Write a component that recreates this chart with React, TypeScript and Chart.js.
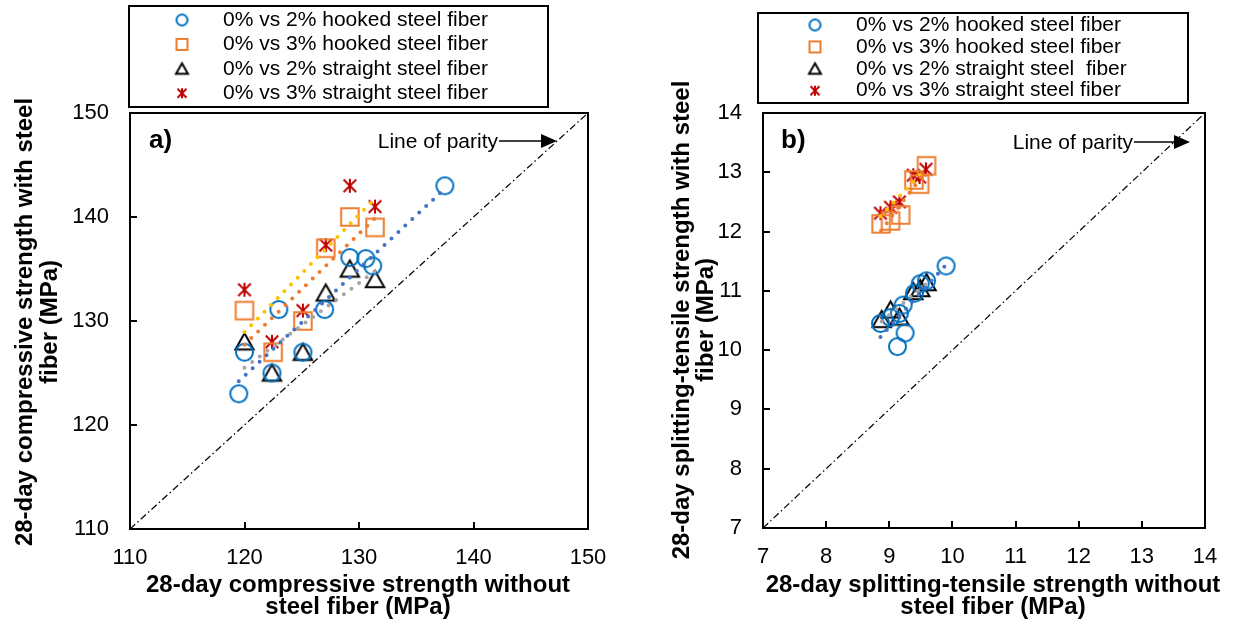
import React, { useEffect, useRef } from 'react';
import { Chart, registerables } from 'chart.js';

Chart.register(...registerables);

const FONT = '"Liberation Sans", Arial, Helvetica, sans-serif';

// ---- Panel (a): 28-day compressive strength (MPa) ----
const compTicks = [110, 120, 130, 140, 150];
const compHooked2Without = [119.5, 120, 122.4, 123, 125.1, 127, 129.2, 130.6, 131.2, 137.5];
const compHooked2With = [123, 127, 125, 131.1, 127, 131.1, 136.1, 136, 135.3, 143];
const compHooked3Without = [120, 122.5, 125.1, 127.1, 129.2, 131.4];
const compHooked3With = [131, 127, 130, 137, 140, 139];
const compStraight2Without = [120, 122.4, 125.1, 127.1, 129.2, 131.4];
const compStraight2With = [128, 125, 127, 132.7, 135, 134];
const compStraight3Without = [120, 122.4, 125.1, 127.1, 129.2, 131.4];
const compStraight3With = [133, 128, 131, 137.3, 143, 141];

// ---- Panel (b): 28-day splitting-tensile strength (MPa) ----
const tensTicks = [7, 8, 9, 10, 11, 12, 13, 14];
const tensHooked2Without = [8.86, 9.02, 9.13, 9.16, 9.22, 9.25, 9.4, 9.49, 9.59, 9.9];
const tensHooked2With = [10.45, 10.55, 10.06, 10.62, 10.76, 10.29, 10.96, 11.12, 11.17, 11.42];
const tensHooked3Without = [8.87, 9.02, 9.18, 9.39, 9.48, 9.59];
const tensHooked3With = [12.13, 12.18, 12.28, 12.87, 12.8, 13.11];
const tensStraight2Without = [8.88, 9.02, 9.16, 9.38, 9.49, 9.59];
const tensStraight2With = [10.52, 10.68, 10.56, 10.99, 11.04, 11.14];
const tensStraight3Without = [8.86, 9.02, 9.16, 9.38, 9.48, 9.58];
const tensStraight3With = [12.31, 12.41, 12.5, 12.95, 12.92, 13.05];

const seriesLabelsA = [
  '0% vs 2% hooked steel fiber',
  '0% vs 3% hooked steel fiber',
  '0% vs 2% straight steel fiber',
  '0% vs 3% straight steel fiber',
];
const seriesLabelsB = [
  '0% vs 2% hooked steel fiber',
  '0% vs 3% hooked steel fiber',
  '0% vs 2% straight steel  fiber',
  '0% vs 3% straight steel fiber',
];

const xTitleA = ['28-day compressive strength without', 'steel fiber (MPa)'];
const yTitleA = ['28-day compressive strength with steel', 'fiber (MPa)'];
const xTitleB = ['28-day splitting-tensile strength without', 'steel fiber (MPa)'];
const yTitleB = ['28-day splitting-tensile strength with steel', 'fiber (MPa)'];
const parityText = 'Line of parity';

type MarkerKind = 'circle' | 'square' | 'triangle' | 'asterisk';
const markerKinds: MarkerKind[] = ['circle', 'square', 'triangle', 'asterisk'];
const markerColors = ['#0070C0', '#ED7D31', '#000000', '#C00000'];
const trendColors = ['#4472C4', '#ED7D31', '#A5A5A5', '#FFC000'];

const W = 625;
const H = 626;

interface Layout {
  area: { left: number; right: number; top: number; bottom: number };
  yLabelGap: number;
  tag: { text: string; x: number; y: number };
  parity: { textRight: number; y: number; tip: number };
  xTitle: { cx: number; y1: number; step: number };
  yTitle: { x1: number; step: number; cy: number };
  legend: {
    left: number; top: number; right: number; bottom: number;
    markerX: number; textX: number; firstRow: number; rowStep: number;
  };
}

interface Panel {
  ticks: number[];
  xs: number[][];
  ys: number[][];
  labels: string[];
  xTitle: string[];
  yTitle: string[];
  layout: Layout;
}

const panelA: Panel = {
  ticks: compTicks,
  xs: [compHooked2Without, compHooked3Without, compStraight2Without, compStraight3Without],
  ys: [compHooked2With, compHooked3With, compStraight2With, compStraight3With],
  labels: seriesLabelsA,
  xTitle: xTitleA,
  yTitle: yTitleA,
  layout: {
    area: { left: 130, right: 588, top: 113, bottom: 529 },
    yLabelGap: 21,
    tag: { text: 'a)', x: 149, y: 141 },
    parity: { textRight: 498, y: 142, tip: 557 },
    xTitle: { cx: 358, y1: 585, step: 22 },
    yTitle: { x1: 25, step: 25, cy: 322 },
    legend: { left: 129, top: 6, right: 548, bottom: 107, markerX: 182, textX: 223, firstRow: 20, rowStep: 24.4 },
  },
};

const panelB: Panel = {
  ticks: tensTicks,
  xs: [tensHooked2Without, tensHooked3Without, tensStraight2Without, tensStraight3Without],
  ys: [tensHooked2With, tensHooked3With, tensStraight2With, tensStraight3With],
  labels: seriesLabelsB,
  xTitle: xTitleB,
  yTitle: yTitleB,
  layout: {
    area: { left: 138, right: 580, top: 113, bottom: 528 },
    yLabelGap: 21,
    tag: { text: 'b)', x: 156, y: 141 },
    parity: { textRight: 508, y: 143, tip: 565 },
    xTitle: { cx: 368, y1: 585, step: 22 },
    yTitle: { x1: 57, step: 24.5, cy: 320 },
    legend: { left: 133, top: 13, right: 563, bottom: 103, markerX: 190, textX: 231, firstRow: 25, rowStep: 21.9 },
  },
};

// Hollow marker glyphs rendered once to small canvases, used as point styles.
function makeMarker(kind: MarkerKind, size: number, color: string, lw: number): HTMLCanvasElement {
  const pad = Math.ceil(lw) + 1;
  const dim = Math.ceil(size + pad * 2);
  const c = document.createElement('canvas');
  c.width = dim;
  c.height = dim;
  const g = c.getContext('2d') as CanvasRenderingContext2D;
  const m = dim / 2;
  const h = size / 2;
  g.strokeStyle = color;
  g.lineWidth = lw;
  g.beginPath();
  if (kind === 'circle') {
    g.arc(m, m, h, 0, Math.PI * 2);
  } else if (kind === 'square') {
    g.rect(m - h, m - h, size, size);
  } else if (kind === 'triangle') {
    g.moveTo(m, m - h);
    g.lineTo(m + h * 1.08, m + h * 0.9);
    g.lineTo(m - h * 1.08, m + h * 0.9);
    g.closePath();
  } else {
    const d = h * 0.9;
    g.moveTo(m, m - h);
    g.lineTo(m, m + h);
    g.moveTo(m - d, m - d);
    g.lineTo(m + d, m + d);
    g.moveTo(m + d, m - d);
    g.lineTo(m - d, m + d);
  }
  g.stroke();
  return c;
}

// Least-squares trend line over the span of a series.
function trendLine(xs: number[], ys: number[]) {
  const n = xs.length;
  const mx = xs.reduce((a, b) => a + b, 0) / n;
  const my = ys.reduce((a, b) => a + b, 0) / n;
  let sxy = 0;
  let sxx = 0;
  for (let i = 0; i < n; i++) {
    sxy += (xs[i] - mx) * (ys[i] - my);
    sxx += (xs[i] - mx) * (xs[i] - mx);
  }
  const b = sxy / sxx;
  const a = my - b * mx;
  const lo = Math.min(...xs);
  const hi = Math.max(...xs);
  return [
    { x: lo, y: a + b * lo },
    { x: hi, y: a + b * hi },
  ];
}

function decorations(panel: Panel, legendMarks: HTMLCanvasElement[]) {
  const L = panel.layout;
  return {
    id: 'panelDecorations',
    afterDraw(chart: Chart) {
      const ctx = chart.ctx;
      const { left, right, top, bottom } = chart.chartArea;
      const xs = chart.scales.x;
      const ys = chart.scales.y;
      ctx.save();
      ctx.strokeStyle = '#000';
      ctx.fillStyle = '#000';

      // plot frame
      ctx.lineWidth = 2;
      ctx.strokeRect(left, top, right - left, bottom - top);

      // inward tick marks
      ctx.beginPath();
      xs.ticks.forEach((t) => {
        const px = Math.round(xs.getPixelForValue(t.value));
        ctx.moveTo(px, bottom);
        ctx.lineTo(px, bottom - 7);
      });
      ys.ticks.forEach((t) => {
        const py = Math.round(ys.getPixelForValue(t.value));
        ctx.moveTo(left, py);
        ctx.lineTo(left + 7, py);
      });
      ctx.stroke();

      // axis titles
      ctx.font = `bold 24px ${FONT}`;
      ctx.textAlign = 'center';
      ctx.textBaseline = 'middle';
      panel.xTitle.forEach((line, i) => ctx.fillText(line, L.xTitle.cx, L.xTitle.y1 + i * L.xTitle.step));
      ctx.save();
      ctx.translate(L.yTitle.x1, L.yTitle.cy);
      ctx.rotate(-Math.PI / 2);
      panel.yTitle.forEach((line, i) => ctx.fillText(line, 0, i * L.yTitle.step));
      ctx.restore();

      // panel tag
      ctx.font = `bold 26px ${FONT}`;
      ctx.textAlign = 'left';
      ctx.fillText(L.tag.text, L.tag.x, L.tag.y);

      // parity caption with arrow
      ctx.font = `21px ${FONT}`;
      ctx.textAlign = 'right';
      ctx.fillText(parityText, L.parity.textRight, L.parity.y);
      const ay = L.parity.y - 1;
      ctx.lineWidth = 1.5;
      ctx.beginPath();
      ctx.moveTo(L.parity.textRight + 1, ay);
      ctx.lineTo(L.parity.tip - 12, ay);
      ctx.stroke();
      ctx.beginPath();
      ctx.moveTo(L.parity.tip, ay);
      ctx.lineTo(L.parity.tip - 16, ay - 7);
      ctx.lineTo(L.parity.tip - 16, ay + 7);
      ctx.closePath();
      ctx.fill();

      // legend box
      const g = L.legend;
      ctx.fillStyle = '#fff';
      ctx.fillRect(g.left, g.top, g.right - g.left, g.bottom - g.top);
      ctx.lineWidth = 2;
      ctx.strokeStyle = '#000';
      ctx.strokeRect(g.left, g.top, g.right - g.left, g.bottom - g.top);
      ctx.fillStyle = '#000';
      ctx.font = `21px ${FONT}`;
      ctx.textAlign = 'left';
      panel.labels.forEach((label, i) => {
        const ry = g.firstRow + i * g.rowStep;
        const mk = legendMarks[i];
        ctx.drawImage(mk, g.markerX - mk.width / 2, ry - mk.height / 2);
        ctx.fillText(label, g.textX, ry);
      });
      ctx.restore();
    },
  };
}

function buildChart(canvas: HTMLCanvasElement, panel: Panel): Chart {
  const L = panel.layout;
  const lo = panel.ticks[0];
  const hi = panel.ticks[panel.ticks.length - 1];
  const sizes = [17, 17.5, 17, 14];
  const marks = markerKinds.map((k, i) => makeMarker(k, sizes[i], markerColors[i], 2));
  const legendSizes = [11, 11, 11, 10];
  const legendMarks = markerKinds.map((k, i) => makeMarker(k, legendSizes[i], markerColors[i], 2));

  const datasets: any[] = [];
  panel.xs.forEach((xs, i) => {
    datasets.push({
      label: panel.labels[i] + ' trend',
      data: trendLine(xs, panel.ys[i]),
      showLine: true,
      borderColor: trendColors[i],
      borderWidth: 4,
      borderDash: [0, 9.5],
      borderCapStyle: 'round',
      pointRadius: 0,
      order: 0,
    });
  });
  panel.xs.forEach((xs, i) => {
    datasets.push({
      label: panel.labels[i],
      data: xs.map((x, j) => ({ x, y: panel.ys[i][j] })),
      pointStyle: marks[i],
      pointRadius: 9,
      order: 1,
    });
  });
  datasets.push({
    label: parityText,
    data: [
      { x: lo, y: lo },
      { x: hi, y: hi },
    ],
    showLine: true,
    borderColor: '#000',
    borderWidth: 1.2,
    borderDash: [7, 3, 1.5, 3],
    pointRadius: 0,
    order: 2,
  });

  const tickFont = { family: FONT, size: 22 };
  const setTicks = (scale: any) => {
    scale.ticks = panel.ticks.map((v) => ({ value: v }));
  };

  return new Chart(canvas, {
    type: 'scatter',
    data: { datasets },
    options: {
      animation: false,
      responsive: false,
      devicePixelRatio: 1,
      layout: { padding: { left: 0, top: L.area.top, right: W - L.area.right, bottom: 0 } },
      plugins: { legend: { display: false }, tooltip: { enabled: false } },
      scales: {
        x: {
          type: 'linear',
          min: lo,
          max: hi,
          afterBuildTicks: setTicks,
          afterFit: (s: any) => {
            s.height = H - L.area.bottom;
          },
          grid: { display: false, drawTicks: false },
          border: { display: false },
          ticks: { font: tickFont, color: '#000', padding: 16, maxRotation: 0, autoSkip: false },
        },
        y: {
          type: 'linear',
          min: lo,
          max: hi,
          afterBuildTicks: setTicks,
          afterFit: (s: any) => {
            s.width = L.area.left;
          },
          grid: { display: false, drawTicks: false },
          border: { display: false },
          ticks: { font: tickFont, color: '#000', padding: L.yLabelGap, autoSkip: false },
        },
      },
    },
    plugins: [decorations(panel, legendMarks)],
  });
}

function PanelCanvas({ panel }: { panel: Panel }) {
  const ref = useRef<HTMLCanvasElement | null>(null);
  useEffect(() => {
    if (!ref.current) return;
    const chart = buildChart(ref.current, panel);
    return () => chart.destroy();
  }, [panel]);
  return <canvas ref={ref} width={W} height={H} style={{ display: 'block', width: W, height: H }} />;
}

export default function App() {
  return (
    <div
      style={{
        position: 'absolute',
        left: 0,
        top: 0,
        width: 1250,
        height: 626,
        display: 'flex',
        background: '#fff',
      }}
    >
      <PanelCanvas panel={panelA} />
      <PanelCanvas panel={panelB} />
    </div>
  );
}
